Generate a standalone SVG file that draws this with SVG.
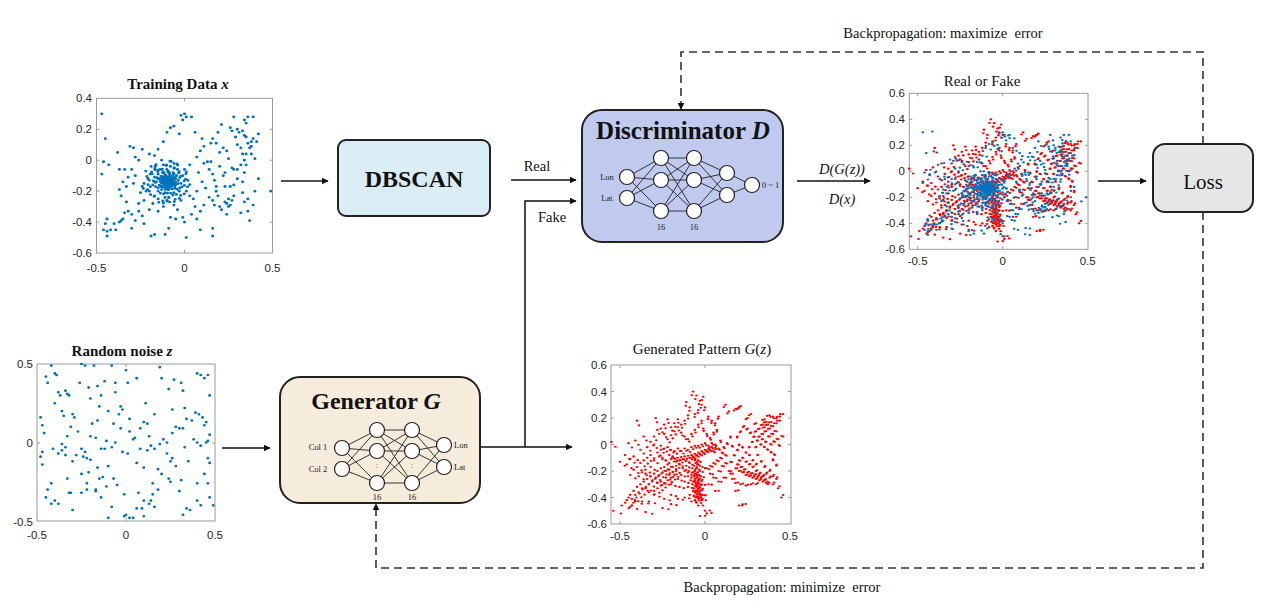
<svg xmlns="http://www.w3.org/2000/svg" width="1268" height="608" viewBox="0 0 1268 608">
<style>
.ax{fill:#fff;stroke:#9a9a9a;stroke-width:1}
.tk{stroke:#9a9a9a;stroke-width:1;fill:none}
.tl{font-family:"Liberation Sans",Arial,sans-serif;font-size:11.5px;fill:#262626}
.tr{text-anchor:end}
.tm{text-anchor:middle}
.ttl{font-family:"Liberation Serif","Times New Roman",serif;font-size:15px;fill:#111;text-anchor:middle}
.b{font-weight:bold}
.dot{fill:none;stroke-linecap:round}
.blue{stroke:#0072bd}
.red{stroke:#ff0000}
.box{stroke:#222;stroke-width:2}
.nn{stroke:#222;stroke-width:0.9;fill:none}
.nd{fill:#fff;stroke:#222;stroke-width:1.2}
.sm{font-family:"Liberation Serif","Times New Roman",serif;font-size:8.5px;fill:#222}
.lbl{font-family:"Liberation Serif","Times New Roman",serif;font-size:14.5px;fill:#111}
.ln{stroke:#111;stroke-width:1.5;fill:none}
.dash{stroke:#333;stroke-width:1.6;fill:none;stroke-dasharray:8 5}
</style>
<defs>
<marker id="ah" viewBox="0 0 10 10" refX="9" refY="5" markerWidth="7" markerHeight="7" markerUnits="userSpaceOnUse" orient="auto"><path d="M0 0L10 5L0 10z" fill="#111"/></marker>
<path id="ptrain" d="M-100 -130h0M-90 -120h0M-110 -140h0M-80 -150h0M-120 -110h0M-95 -160h0M-70 -130h0M-130 -150h0M-105 -100h0M-85 -90h0M-60 -110h0M-140 -120h0M-115 -170h0M-75 -170h0M-50 -140h0M-150 -90h0M-125 -80h0M-65 -80h0M-100 -60h0M-160 -140h0M-90 -190h0M-130 -190h0M-45 -100h0M-170 -110h0M-55 -170h0M-110 -210h0M-140 -60h0M-80 -40h0M-35 -130h0M-180 -160h0M-150 -200h0M-60 -210h0M-20 -150h0M-195 -90h0M-120 -30h0M-40 -60h0M-10 -100h0M-170 -230h0M-90 -240h0M-30 -200h0M-200 -130h0M-210 -190h0M-100 -260h0M-150 -250h0M0 -60h0M-60 -20h0M-130 0h0M-190 -40h0M-220 -70h0M-230 -150h0M-250 -210h0M-180 -280h0M-120 -300h0M-60 -290h0M10 -200h0M20 -130h0M30 -230h0M-20 -260h0M-40 -320h0M-80 -370h0M-10 -370h0M0 -400h0M40 -350h0M60 -300h0M50 -250h0M70 -200h0M-260 -280h0M-280 -100h0M-300 -60h0M-260 0h0M-240 70h0M-200 40h0M-170 30h0M-150 70h0M-120 120h0M-100 180h0M-80 210h0M-60 220h0M-30 170h0M-10 260h0M10 280h0M0 300h0M-20 290h0M40 280h0M60 180h0M100 140h0M110 90h0M90 60h0M70 20h0M30 -30h0M80 -80h0M100 -140h0M120 -180h0M140 -240h0M110 -290h0M90 -330h0M70 -380h0M-50 -380h0M-90 -440h0M-190 -490h0M-170 -480h0M-110 -480h0M10 -500h0M90 -450h0M160 -440h0M160 -490h0M-460 -10h0M-470 -90h0M-450 140h0M-470 300h0M-430 -30h0M-380 50h0M-370 -60h0M-340 -60h0M-320 -110h0M-310 90h0M-290 80h0M-280 20h0M-350 -140h0M-370 -190h0M-360 -230h0M-330 -270h0M-320 -330h0M-300 -350h0M-340 -340h0M-360 -390h0M-370 -400h0M-400 -410h0M-440 -380h0M-450 -410h0M-460 -450h0M-440 -460h0M-440 -490h0M-420 -450h0M-390 -450h0M-350 -380h0M-280 -390h0M-300 -440h0M-230 -410h0M-240 -360h0M-260 -330h0M-230 -260h0M-200 -200h0M-240 -170h0M-330 -170h0M-290 -150h0M-200 -320h0M-150 -330h0M150 -10h0M160 -90h0M170 -130h0M180 -200h0M190 -230h0M200 -300h0M160 -260h0M230 -270h0M240 -280h0M250 -300h0M260 -290h0M250 -250h0M270 -260h0M280 -230h0M260 -170h0M280 -160h0M300 -120h0M300 -60h0M270 -50h0M250 10h0M240 60h0M220 80h0M200 50h0M180 110h0M160 140h0M150 110h0M190 180h0M210 230h0M260 210h0M270 190h0M290 150h0M300 100h0M320 80h0M330 40h0M340 0h0M350 -30h0M340 -80h0M330 -140h0M330 -210h0M340 -270h0M360 -250h0M360 -330h0M370 -390h0M320 -340h0M390 -290h0M400 -200h0M420 -120h0M400 10h0M380 40h0M370 80h0M360 110h0M380 120h0M390 140h0M350 150h0M340 160h0M330 190h0M310 180h0M300 200h0M350 240h0M340 260h0M360 280h0M390 280h0M420 170h0M410 120h0M380 90h0M350 40h0M320 -30h0M280 -60h0M230 -170h0M230 -80h0M200 -40h0M130 -10h0M110 -20h0M170 -290h0M210 -320h0M240 -350h0M490 -200h0M280 280h0M220 -100h0M180 -170h0M140 -60h0"/>
<path id="pcore" d="M-93 -127h0M-107 -118h0M-118 -133h0M-86 -141h0M-99 -152h0M-77 -118h0M-124 -146h0M-112 -96h0M-68 -147h0M-133 -103h0M-102 -177h0M-81 -104h0M-143 -162h0M-57 -124h0M-119 -79h0M-94 -73h0M-71 -186h0M-138 -137h0M-88 -163h0M-109 -189h0M-63 -93h0M-156 -113h0M-127 -57h0M-48 -157h0M-97 -213h0M-164 -171h0M-83 -127h0M-116 -152h0M-74 -159h0M-129 -124h0M-91 -137h0M-103 -112h0M-152 -66h0M-42 -187h0M-176 -134h0M-66 -226h0M-137 -213h0M-187 -77h0M-27 -112h0M-111 -241h0M-58 -53h0M-168 -52h0M-14 -173h0M-146 -272h0M-207 -158h0M-33 -82h0M-84 -271h0M-22 -228h0M-193 -223h0M-123 -263h0M-2 -134h0M-214 -104h0M-53 -253h0M-162 -29h0M-76 -8h0M-101 -32h0M-39 -31h0M8 -88h0M-234 -183h0M17 -172h0M-96 -108h0M-108 -163h0M-79 -137h0M-121 -122h0M-89 -82h0M-134 -171h0"/>
<path id="pgen" d="M-60 -120h0M-55 -140h0M-65 -160h0M-50 -180h0M-60 -200h0M-70 -210h0M-55 -220h0M-45 -230h0M-65 -240h0M-50 -250h0M-60 -260h0M-40 -270h0M-70 -280h0M-55 -290h0M-45 -300h0M-60 -310h0M-50 -320h0M-65 -330h0M-40 -340h0M-55 -350h0M-60 -360h0M-50 -370h0M-45 -380h0M-65 -390h0M-55 -400h0M-40 -410h0M-60 -420h0M-50 -440h0M-75 -300h0M-35 -260h0M-80 -230h0M-30 -200h0M-70 -350h0M-35 -330h0M-45 -150h0M-75 -180h0M-58 -275h0M-52 -345h0M-62 -225h0M-48 -395h0M-30 -380h0M-90 -380h0M-20 -420h0M-80 -430h0M-40 -460h0M0 -500h0M-30 -540h0M10 -520h0M-20 -300h0M-85 -270h0M-25 -240h0M-95 -200h0M-15 -170h0M-40 -120h0M-70 -100h0M-200 -110h0M-180 -105h0M-160 -100h0M-140 -95h0M-120 -90h0M-100 -85h0M-80 -80h0M-60 -70h0M-40 -60h0M-20 -50h0M0 -40h0M20 -30h0M40 -20h0M60 -25h0M-150 -120h0M-130 -110h0M-110 -120h0M-90 -100h0M-70 -90h0M-50 -80h0M-30 -70h0M-10 -60h0M10 -45h0M30 -40h0M50 -50h0M-170 -130h0M-190 -90h0M-210 -80h0M-230 -120h0M-250 -100h0M-270 -90h0M-220 -150h0M-240 -170h0M-260 -180h0M-280 -200h0M-300 -220h0M-320 -240h0M-340 -260h0M-310 -270h0M-290 -250h0M-270 -230h0M-250 -210h0M-230 -200h0M-210 -190h0M-190 -170h0M-170 -160h0M-150 -150h0M-360 -280h0M-380 -300h0M-400 -320h0M-420 -350h0M-440 -380h0M-450 -400h0M-460 -420h0M-430 -410h0M-410 -380h0M-390 -360h0M-350 -330h0M-330 -300h0M-370 -330h0M-470 -440h0M-490 -460h0M-300 -120h0M-320 -80h0M-340 -100h0M-280 -60h0M-260 -40h0M-240 -30h0M-220 -20h0M-200 -40h0M-180 -50h0M-160 -30h0M-140 -50h0M-120 -30h0M-100 -40h0M-80 -20h0M-60 -10h0M-40 -10h0M-20 0h0M0 10h0M20 -10h0M40 10h0M60 0h0M80 -30h0M100 -60h0M120 -80h0M90 -100h0M70 -120h0M50 -140h0M30 -160h0M10 -180h0M30 -220h0M50 -250h0M80 -200h0M100 -160h0M120 -140h0M140 -200h0M-120 -200h0M-140 -230h0M-160 -260h0M-180 -230h0M-200 -250h0M-220 -270h0M-240 -290h0M-260 -310h0M-280 -330h0M-300 -350h0M-330 -360h0M-200 -300h0M-150 -320h0M-120 -280h0M-100 -240h0M-110 -160h0M-90 -140h0M-130 -180h0M-170 -200h0M-190 -210h0M-210 -230h0M-230 -250h0M-320 -170h0M-350 -190h0M-370 -210h0M-360 -120h0M-380 -140h0M-400 -170h0M-420 -190h0M-440 -230h0M-390 -240h0M-350 -220h0M-280 -290h0M-260 -280h0M-200 -380h0M-240 -410h0M-160 -410h0M-120 -400h0M-100 -320h0M-20 -380h0M20 -300h0M60 -350h0M80 -280h0M110 -250h0M150 -220h0M-300 -380h0M-330 -430h0M-370 -430h0M-410 -430h0M-440 -470h0M-250 -480h0M-350 -510h0M-200 -450h0M-320 20h0M-300 60h0M-280 110h0M-260 120h0M-240 80h0M-220 40h0M-200 70h0M-180 100h0M-160 130h0M-140 90h0M-120 60h0M-100 40h0M-80 80h0M-60 110h0M-40 150h0M-20 180h0M-10 120h0M10 80h0M30 50h0M50 90h0M70 110h0M90 30h0M-60 230h0M-40 260h0M-20 300h0M-30 330h0M-50 370h0M-70 400h0M-10 360h0M0 280h0M20 210h0M40 180h0M60 160h0M80 210h0M120 300h0M140 250h0M-100 220h0M-120 180h0M-140 150h0M-160 190h0M-180 160h0M-200 130h0M-220 190h0M-240 150h0M-290 200h0M-90 280h0M-110 320h0M-400 180h0M-410 30h0M-450 10h0M-470 -80h0M-500 -130h0M-540 -500h0M-550 20h0M-360 60h0M-340 -20h0M-380 -40h0M-420 -90h0M-440 -110h0M-460 -150h0M-300 0h0M-260 -10h0M110 -20h0M130 10h0M150 60h0M160 -10h0M180 -180h0M200 -200h0M220 -210h0M240 -230h0M260 -240h0M280 -250h0M300 -260h0M320 -270h0M340 -280h0M360 -290h0M370 -300h0M350 -270h0M330 -250h0M310 -240h0M290 -230h0M270 -220h0M250 -210h0M230 -190h0M210 -170h0M190 -150h0M200 -120h0M220 -100h0M240 -130h0M260 -150h0M280 -170h0M300 -200h0M320 -220h0M340 -240h0M380 -250h0M400 -240h0M360 -220h0M380 -200h0M300 -150h0M280 -120h0M260 -80h0M240 -60h0M220 -20h0M200 0h0M190 60h0M210 100h0M230 140h0M250 120h0M270 90h0M290 60h0M310 30h0M330 0h0M350 -20h0M370 -40h0M390 -60h0M410 -80h0M300 -20h0M280 20h0M320 60h0M340 80h0M360 100h0M380 120h0M400 140h0M420 160h0M440 180h0M350 130h0M370 150h0M390 170h0M360 170h0M340 150h0M320 120h0M300 100h0M380 60h0M400 80h0M420 100h0M430 40h0M410 20h0M390 0h0M360 20h0M340 40h0M440 210h0M460 230h0M200 280h0M210 290h0M180 270h0M250 200h0M270 230h0M300 160h0M420 200h0M400 210h0M380 220h0M350 190h0M300 -300h0M270 -300h0M240 -310h0M210 -300h0M180 -290h0M160 -260h0M200 -460h0M220 -460h0M450 -400h0M430 -330h0M400 -300h0M420 -260h0M180 -350h0M150 -130h0M170 -80h0M190 -40h0M400 -120h0M420 -160h0M440 -10h0M460 60h0M330 -130h0M350 -170h0M260 -20h0M310 -80h0"/>
<path id="pnoise" d="M-480 160h0M-470 110h0M-460 60h0M-450 420h0M-440 380h0M-420 490h0M-400 440h0M-390 430h0M-380 320h0M-370 300h0M-360 200h0M-350 170h0M-340 330h0M-330 310h0M-320 300h0M-300 180h0M-290 160h0M-270 70h0M-260 380h0M-250 500h0M-230 490h0M-210 350h0M-200 280h0M-180 490h0M-160 360h0M-150 230h0M-140 300h0M-120 390h0M-100 200h0M-80 490h0M-60 320h0M-40 180h0M-30 230h0M-20 210h0M0 460h0M20 150h0M60 410h0M100 130h0M120 120h0M160 180h0M190 480h0M200 410h0M240 340h0M260 210h0M270 400h0M280 100h0M300 90h0M310 380h0M320 330h0M330 220h0M340 150h0M370 140h0M400 440h0M420 430h0M440 410h0M460 430h0M470 300h0M430 160h0M410 180h0M390 190h0M450 130h0M440 110h0M380 20h0M400 0h0M420 -20h0M450 0h0M460 10h0M470 50h0M460 -100h0M460 -260h0M470 -350h0M490 -400h0M440 -200h0M420 -400h0M400 -370h0M360 -430h0M340 -420h0M320 -460h0M300 -310h0M310 -240h0M280 -150h0M250 -250h0M240 -230h0M260 -100h0M230 -70h0M200 -200h0M180 -300h0M150 -260h0M150 -330h0M140 -370h0M130 -390h0M160 -410h0M90 -420h0M100 -470h0M40 -480h0M20 -480h0M0 -460h0M-10 -470h0M-80 -410h0M-100 -480h0M-140 -350h0M-150 -230h0M-130 -220h0M-170 -310h0M-220 -300h0M-220 -260h0M-250 -200h0M-250 -320h0M-300 -430h0M-310 -320h0M-320 -320h0M-330 -230h0M-380 -390h0M-400 -370h0M-420 -390h0M-440 -300h0M-470 -140h0M-470 -60h0M-380 -70h0M-340 -80h0M-300 -120h0M-250 -40h0M-230 -60h0M-240 -90h0M-220 -100h0M-200 -110h0M-210 -190h0M-170 -300h0M-100 -150h0M-120 -40h0M-80 -30h0M-60 0h0M-20 -60h0M10 -70h0M40 20h0M50 30h0M60 -130h0M80 -40h0M100 -160h0M120 -50h0M140 -20h0M160 -40h0M180 -170h0M190 -10h0M210 20h0M230 0h0M250 -120h0M100 -370h0M70 -320h0M60 -420h0M-10 -330h0M-50 -270h0M-70 -230h0M-110 -280h0M-140 -40h0M-160 -160h0M-280 -80h0M-360 -10h0M-360 -50h0M-330 40h0M-310 100h0M-340 -30h0M-200 40h0M-170 30h0M-110 10h0M-70 120h0M-30 90h0M20 70h0M80 90h0M130 40h0M260 60h0M320 90h0M330 -30h0M350 -120h0M400 -260h0M470 -130h0M-450 -350h0M-480 -90h0M-410 -40h0M-420 -260h0M-160 140h0M-190 120h0M-60 380h0M110 250h0M10 380h0M-400 250h0"/>
</defs>

<!-- Training data plot -->
<g id="plot-training">
<text class="ttl b" x="178" y="89">Training Data <tspan font-style="italic">x</tspan></text>
<rect class="ax" x="96.5" y="98.3" width="176" height="154.7"/>
<path class="tk" d="M96.5 129.3h3M96.5 160.2h3M96.5 191.1h3M96.5 222.1h3M272.5 129.3h-3M272.5 160.2h-3M272.5 191.1h-3M272.5 222.1h-3M184.5 253v-3M184.5 98.3v3"/>
<g class="dot blue" style="stroke-width:18" transform="translate(184.5 160.2) scale(0.176 -0.1547)">
<use href="#ptrain"/>
<use href="#pcore"/>
<use href="#pcore" transform="translate(-8 11) rotate(7)"/>
</g>
<g class="tl tr"><text x="92" y="102.3">0.4</text><text x="92" y="133.3">0.2</text><text x="92" y="164.2">0</text><text x="92" y="195.1">-0.2</text><text x="92" y="226.1">-0.4</text><text x="92" y="257">-0.6</text></g>
<g class="tl tm"><text x="96.5" y="272">-0.5</text><text x="184.5" y="272">0</text><text x="272.5" y="272">0.5</text></g>
</g>

<!-- Random noise plot -->
<g id="plot-noise">
<text class="ttl b" x="122" y="356">Random noise <tspan font-style="italic">z</tspan></text>
<rect class="ax" x="37" y="364" width="178" height="157"/>
<path class="tk" d="M37 443h3M215 443h-3M126 521v-3M126 364v3"/>
<use href="#pnoise" class="dot blue" style="stroke-width:17" transform="translate(126 442.5) scale(0.178 -0.157)"/>
<g class="tl tr"><text x="33" y="368">0.5</text><text x="33" y="447">0</text><text x="33" y="526">-0.5</text></g>
<g class="tl tm"><text x="37" y="539">-0.5</text><text x="126" y="539">0</text><text x="215" y="539">0.5</text></g>
</g>

<!-- DBSCAN -->
<g id="dbscan">
<rect class="box" x="338" y="140" width="152" height="76" rx="8" fill="#daedf4"/>
<text x="414" y="187" font-family="'Liberation Serif','Times New Roman',serif" font-size="24" font-weight="bold" text-anchor="middle" fill="#111">DBSCAN</text>
</g>

<!-- Discriminator -->
<g id="discriminator">
<rect class="box" x="582" y="110" width="201" height="132" rx="20" fill="#bfcaee"/>
<text x="683" y="139" font-family="'Liberation Serif','Times New Roman',serif" font-size="25" font-weight="bold" text-anchor="middle" fill="#111">Discriminator <tspan font-style="italic">D</tspan></text>
<path class="nn" d="M627 177L661 158M627 177L661 180M627 177L661 211M627 198L661 158M627 198L661 180M627 198L661 211M661 158L694 158M661 158L694 180M661 158L694 211M661 180L694 158M661 180L694 180M661 180L694 211M661 211L694 158M661 211L694 180M661 211L694 211M694 158L727 173M694 158L727 195M694 180L727 173M694 180L727 195M694 211L727 173M694 211L727 195M727 173L752 185M727 195L752 185"/>
<g class="nd"><circle cx="627" cy="177" r="7.5"/><circle cx="627" cy="198" r="7.5"/><circle cx="661" cy="158" r="7.5"/><circle cx="661" cy="180" r="7.5"/><circle cx="661" cy="211" r="7.5"/><circle cx="694" cy="158" r="7.5"/><circle cx="694" cy="180" r="7.5"/><circle cx="694" cy="211" r="7.5"/><circle cx="727" cy="173" r="7.5"/><circle cx="727" cy="195" r="7.5"/><circle cx="752" cy="185" r="7.5"/></g>
<text class="sm" x="607" y="180" text-anchor="middle">Lon</text>
<text class="sm" x="607" y="201" text-anchor="middle">Lat</text>
<text class="sm" x="762" y="188">0 ~ 1</text>
<text class="sm" x="661" y="230" text-anchor="middle">16</text>
<text class="sm" x="694" y="230" text-anchor="middle">16</text>
</g>

<!-- Generator -->
<g id="generator">
<rect class="box" x="280" y="377" width="200" height="126" rx="20" fill="#f5ecdc"/>
<text x="376" y="409" font-family="'Liberation Serif','Times New Roman',serif" font-size="24" font-weight="bold" text-anchor="middle" fill="#111">Generator <tspan font-style="italic">G</tspan></text>
<path class="nn" d="M342 448L377 430M342 448L377 451M342 448L377 483M342 469L377 430M342 469L377 451M342 469L377 483M377 430L412 430M377 430L412 451M377 430L412 483M377 451L412 430M377 451L412 451M377 451L412 483M377 483L412 430M377 483L412 451M377 483L412 483M412 430L444 445M412 430L444 467M412 451L444 445M412 451L444 467M412 483L444 445M412 483L444 467"/>
<g class="nd"><circle cx="342" cy="448" r="7.5"/><circle cx="342" cy="469" r="7.5"/><circle cx="377" cy="430" r="7.5"/><circle cx="377" cy="451" r="7.5"/><circle cx="377" cy="483" r="7.5"/><circle cx="412" cy="430" r="7.5"/><circle cx="412" cy="451" r="7.5"/><circle cx="412" cy="483" r="7.5"/><circle cx="444" cy="445" r="7.5"/><circle cx="444" cy="467" r="7.5"/></g>
<path d="M377 464v1M377 467v1M412 464v1M412 467v1" stroke="#888" stroke-width="1"/>
<text class="sm" x="318" y="450" text-anchor="middle">Col 1</text>
<text class="sm" x="318" y="472" text-anchor="middle">Col 2</text>
<text class="sm" x="454" y="448">Lon</text>
<text class="sm" x="454" y="470">Lat</text>
<text class="sm" x="377" y="500" text-anchor="middle">16</text>
<text class="sm" x="412" y="500" text-anchor="middle">16</text>
</g>

<!-- Generated pattern plot -->
<g id="plot-generated">
<text class="ttl" x="702" y="354">Generated Pattern <tspan font-style="italic">G</tspan>(<tspan font-style="italic">z</tspan>)</text>
<rect class="ax" x="611" y="365" width="180" height="159"/>
<path class="tk" d="M611 391.5h3M611 418h3M611 444.5h3M611 471h3M611 497.5h3M791 391.5h-3M791 418h-3M791 444.5h-3M791 471h-3M791 497.5h-3M620 524v-3M705 524v-3M620 365v3M705 365v3"/>
<g class="dot red" style="stroke-width:16" transform="translate(705 444.5) scale(0.170 -0.1325)">
<use href="#pgen"/>
<use href="#pgen" transform="translate(7 -13) rotate(2.5) scale(0.97)"/>
</g>
<g class="tl tr"><text x="607" y="369">0.6</text><text x="607" y="395.5">0.4</text><text x="607" y="422">0.2</text><text x="607" y="448.5">0</text><text x="607" y="475">-0.2</text><text x="607" y="501.5">-0.4</text><text x="607" y="528">-0.6</text></g>
<g class="tl tm"><text x="620" y="540">-0.5</text><text x="705" y="540">0</text><text x="790" y="540">0.5</text></g>
</g>

<!-- Real or Fake plot -->
<g id="plot-realfake">
<text class="ttl" x="982" y="86">Real or Fake</text>
<rect class="ax" x="909.3" y="93.3" width="178.7" height="156"/>
<path class="tk" d="M909.3 119.3h3M909.3 145.3h3M909.3 171.3h3M909.3 197.3h3M909.3 223.3h3M1088 119.3h-3M1088 145.3h-3M1088 171.3h-3M1088 197.3h-3M1088 223.3h-3M917.7 249.3v-3M1002.7 249.3v-3M917.7 93.3v3M1002.7 93.3v3"/>
<g class="dot red" style="stroke-width:17" transform="translate(1002.7 171.3) scale(0.170 -0.130)">
<use href="#pgen"/>
<use href="#pgen" transform="translate(7 -13) rotate(2.5) scale(0.97)"/>
</g>
<g class="dot blue" style="stroke-width:17" transform="translate(1002.7 171.3) scale(0.170 -0.130)">
<use href="#ptrain"/>
<use href="#pcore"/>
<use href="#pcore" transform="translate(-8 11) rotate(7)"/>
<use href="#ptrain" transform="translate(12 -9) rotate(-4) scale(0.95)"/>
</g>
<g class="tl tr"><text x="905" y="97.3">0.6</text><text x="905" y="123.3">0.4</text><text x="905" y="149.3">0.2</text><text x="905" y="175.3">0</text><text x="905" y="201.3">-0.2</text><text x="905" y="227.3">-0.4</text><text x="905" y="253.3">-0.6</text></g>
<g class="tl tm"><text x="917.7" y="265">-0.5</text><text x="1002.7" y="265">0</text><text x="1087.7" y="265">0.5</text></g>
</g>

<!-- Loss -->
<g id="loss">
<rect class="box" x="1153" y="144" width="100" height="68" rx="12" fill="#e6e6e6"/>
<text x="1203" y="189" font-family="'Liberation Serif','Times New Roman',serif" font-size="21" text-anchor="middle" fill="#111">Loss</text>
</g>

<!-- Connectors -->
<g id="connectors">
<path class="ln" d="M281 181H328" marker-end="url(#ah)"/>
<path class="ln" d="M222 448H270" marker-end="url(#ah)"/>
<path class="ln" d="M511 180H576" marker-end="url(#ah)"/>
<path class="ln" d="M480 447H572" marker-end="url(#ah)"/>
<path class="ln" d="M525 447V201H576" marker-end="url(#ah)"/>
<path class="ln" d="M797 181H870" marker-end="url(#ah)"/>
<path class="ln" d="M1098 181H1146" marker-end="url(#ah)"/>
<path class="dash" d="M1203 144V52H681V109" marker-end="url(#ah)"/>
<path class="dash" d="M1203 212V568H376V504" marker-end="url(#ah)"/>
<text class="lbl" x="537" y="171" text-anchor="middle">Real</text>
<text class="lbl" x="552" y="222" text-anchor="middle">Fake</text>
<text class="lbl" x="842" y="174" text-anchor="middle" font-style="italic" font-size="13.5">D(G(z))</text>
<text class="lbl" x="842" y="204" text-anchor="middle" font-style="italic" font-size="13.5">D(x)</text>
<text class="lbl" x="943" y="38" text-anchor="middle" font-size="16" xml:space="preserve">Backpropagation: maximize  error</text>
<text class="lbl" x="782" y="592" text-anchor="middle" font-size="16" xml:space="preserve">Backpropagation: minimize  error</text>
</g>
</svg>
